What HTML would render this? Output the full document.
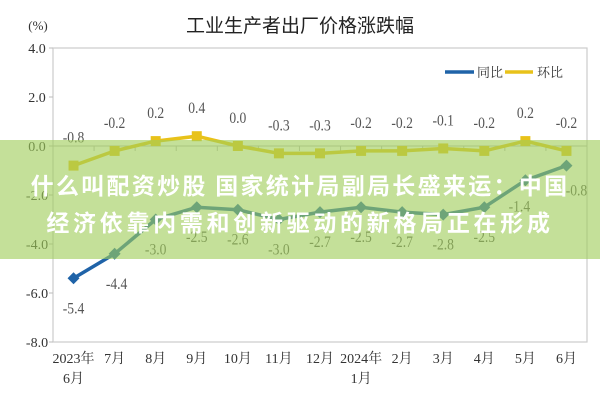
<!DOCTYPE html>
<html><head><meta charset="utf-8"><style>
body{margin:0;width:600px;height:400px;background:#fff;overflow:hidden;position:relative;font-family:"Liberation Serif","Noto Serif CJK SC",serif;}
svg{position:absolute;left:0;top:0}
.band{position:absolute;left:0;top:140px;width:600px;height:119px;background:rgba(160,205,90,0.62);}
.bt{position:absolute;left:0;width:600px;text-align:center;color:#fff;font-family:"Noto Sans CJK SC","Liberation Sans",sans-serif;font-weight:bold;white-space:nowrap;}
</style></head><body>
<svg id="chart" width="600" height="400"></svg>
<div class="band"></div>
<div class="bt" style="top:167px;font-size:23px;letter-spacing:2.3px">什么叫配资炒股 国家统计局副局长盛来运：中国</div>
<div class="bt" style="top:204px;font-size:23px;letter-spacing:3.7px">经济依靠内需和创新驱动的新格局正在形成</div>
<script>
const categories=["2023年|6月","7月","8月","9月","10月","11月","12月","2024年|1月","2月","3月","4月","5月","6月"];
const yoy=[-5.4,-4.4,-3.0,-2.5,-2.6,-3.0,-2.7,-2.5,-2.7,-2.8,-2.5,-1.4,-0.8];
const mom=[-0.8,-0.2,0.2,0.4,0.0,-0.3,-0.3,-0.2,-0.2,-0.1,-0.2,0.2,-0.2];
const yTicks=[4,2,0,-2,-4,-6,-8];
const ns="http://www.w3.org/2000/svg";
const svg=document.getElementById('chart');
const L=53,R=587,T=48,B=342;
const y=v=>T+(4-v)/12*(B-T);
const bw=(R-L)/categories.length;
const x=i=>L+bw*(i+0.5);
function mk(t,a,txt){const e=document.createElementNS(ns,t);for(const k in a)e.setAttribute(k,a[k]);if(txt!==undefined)e.textContent=txt;svg.appendChild(e);return e;}
let e;
e=mk('text',{x:300,y:32,'font-size':19,'text-anchor':'middle',fill:'#222','font-family':'"Liberation Sans","Noto Sans CJK SC",sans-serif'},'工业生产者出厂价格涨跌幅');


e=mk('text',{x:38,y:30,'font-size':13,'text-anchor':'middle',fill:'#333'},'(%)');


e=mk('rect',{x:L,y:T,width:R-L,height:B-T,fill:'none',stroke:'#ccc','stroke-width':1.2});


e=mk('line',{x1:L,x2:R,y1:y(0),y2:y(0),stroke:'#bbb','stroke-width':1});


yTicks.forEach(v=>{
 e=mk('text',{x:37,y:y(v)+5,'font-size':14,'text-anchor':'middle',fill:'#333'},v.toFixed(1));
 
 
 e=mk('line',{x1:L-4,x2:L,y1:y(v),y2:y(v),stroke:'#bbb'});
 
 
});
categories.forEach((c,i)=>{
 const p=c.split('|');
 p.forEach((s,j)=>{
  e=mk('text',{x:x(i),y:363+j*20,'font-size':14,'text-anchor':'middle',fill:'#333'},s);
  
  
 });
 if(i>0){e=mk('line',{x1:L+bw*i,x2:L+bw*i,y1:y(0),y2:y(0)+5,stroke:'#bbb'});
 
 }
});
function series(vals,color,name,above){
 e=mk('polyline',{points:vals.map((v,i)=>x(i)+','+y(v)).join(' '),fill:'none',stroke:color,'stroke-width':3.5});
 
 
 vals.forEach((v,i)=>{
  if(above){e=mk('rect',{x:x(i)-5,y:y(v)-5,width:10,height:10,fill:color});}
  else{e=mk('path',{d:`M${x(i)} ${y(v)-6}L${x(i)+6} ${y(v)}L${x(i)} ${y(v)+6}L${x(i)-6} ${y(v)}Z`,fill:color});}
  
  
  let lx=x(i),ly=above?y(v)-23:y(v)+35;
  if(!above&&i===1)lx+=2;
  if(!above&&i===11){lx-=6;ly-=4;}
  if(!above&&i===12){lx+=10;ly-=5;}
  e=mk('text',{x:lx,y:ly,'font-size':16,'text-anchor':'middle',fill:'#555',transform:`translate(${lx},0) scale(0.85,1) translate(${-lx},0)`},v.toFixed(1));
  
  
 });
}
series(mom,'#e8c21a','mom',true);
series(yoy,'#1f63a8','yoy',false);
e=mk('line',{x1:445,x2:474,y1:72,y2:72,stroke:'#1f63a8','stroke-width':3.5});


e=mk('text',{x:477,y:77,'font-size':13,fill:'#333'},'同比');


e=mk('line',{x1:505,x2:533,y1:72,y2:72,stroke:'#e8c21a','stroke-width':3.5});


e=mk('text',{x:537,y:77,'font-size':13,fill:'#333'},'环比');


</script>
</body></html>
